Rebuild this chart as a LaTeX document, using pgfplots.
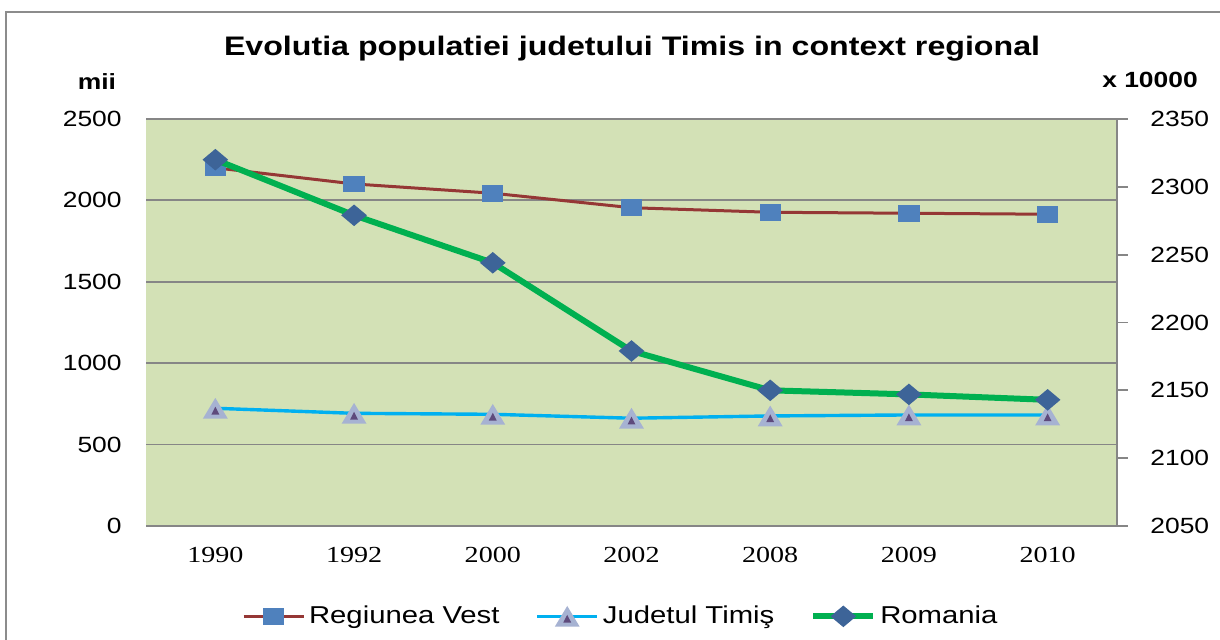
\documentclass[border=0pt]{standalone}
\usepackage{fontspec}
\setmainfont{Liberation Sans}[FakeStretch=1.2]
\newfontfamily\serifx{Liberation Serif}[FakeStretch=1.22]
\usepackage{pgfplots}
\pgfplotsset{compat=1.18}
\definecolor{bgc}{RGB}{211,225,182}
\definecolor{gridc}{RGB}{134,134,134}
\definecolor{framec}{RGB}{140,140,140}
\definecolor{redc}{RGB}{149,55,53}
\definecolor{cyanc}{RGB}{0,176,240}
\definecolor{greenc}{RGB}{0,176,80}
\definecolor{sqc}{RGB}{79,129,189}
\definecolor{diac}{RGB}{61,100,152}
\definecolor{trifill}{RGB}{166,178,210}
\definecolor{triinner}{RGB}{94,74,124}
\pgfdeclareplotmark{rect}{%
  \pgfsetfillcolor{sqc}%
  \pgfpathrectangle{\pgfqpoint{-1.26\pgfplotmarksize}{-\pgfplotmarksize}}{\pgfqpoint{2.52\pgfplotmarksize}{2\pgfplotmarksize}}%
  \pgfusepathqfill}
\pgfdeclareplotmark{dia}{%
  \pgfsetfillcolor{diac}%
  \pgfpathmoveto{\pgfqpoint{0pt}{\pgfplotmarksize}}%
  \pgfpathlineto{\pgfqpoint{1.19\pgfplotmarksize}{0pt}}%
  \pgfpathlineto{\pgfqpoint{0pt}{-\pgfplotmarksize}}%
  \pgfpathlineto{\pgfqpoint{-1.19\pgfplotmarksize}{0pt}}%
  \pgfpathclose\pgfusepathqfill}
\pgfdeclareplotmark{tritwo}{%
  \pgfsetfillcolor{trifill}%
  \pgfpathmoveto{\pgfqpoint{0pt}{\pgfplotmarksize}}%
  \pgfpathlineto{\pgfqpoint{1.2\pgfplotmarksize}{-\pgfplotmarksize}}%
  \pgfpathlineto{\pgfqpoint{-1.2\pgfplotmarksize}{-\pgfplotmarksize}}%
  \pgfpathclose\pgfusepathqfill
  \pgfsetfillcolor{triinner}%
  \pgfpathmoveto{\pgfqpoint{0pt}{0.15\pgfplotmarksize}}%
  \pgfpathlineto{\pgfqpoint{0.38\pgfplotmarksize}{-0.6\pgfplotmarksize}}%
  \pgfpathlineto{\pgfqpoint{-0.38\pgfplotmarksize}{-0.6\pgfplotmarksize}}%
  \pgfpathclose\pgfusepathqfill}
\begin{document}
\begin{tikzpicture}
\useasboundingbox (0,0) rectangle (610pt,320pt);
\fill[white] (0,0) rectangle (610pt,320pt);
\draw[color=framec, line width=1pt] (3pt,-10pt) -- (3pt,314pt) -- (620pt,314pt);
\begin{axis}[
  at={(73pt,57pt)}, anchor=south west,
  scale only axis, width=485.5pt, height=203.5pt,
  xmin=-0.5, xmax=6.5, ymin=0, ymax=2500,
  axis background/.style={fill=bgc},
  axis line style={draw=none},
  xtick={0,...,6}, xticklabels={1990,1992,2000,2002,2008,2009,2010},
  ytick={0,500,...,2500},
  ymajorgrids, grid style={color=gridc, line width=0.9pt},
  major tick length=0pt,
  /pgf/number format/assume math mode=true,
  /pgf/number format/1000 sep={},
  yticklabel style={font=\fontsize{11}{13}\selectfont, anchor=east, inner sep=0pt, xshift=-12pt},
  xticklabel style={font=\serifx\fontsize{11.5}{13}\selectfont, anchor=north, inner sep=0pt, yshift=-10.5pt},
]
\addplot[color=redc, line width=1.5pt, mark=rect, mark size=4.2pt] coordinates {
  (0,2200) (1,2101) (2,2044) (3,1955) (4,1927) (5,1921) (6,1915)};
\addplot[color=cyanc, line width=1.7pt, mark=tritwo, mark size=5.2pt] coordinates {
  (0,723) (1,692) (2,686) (3,662) (4,676) (5,682) (6,682)};
\end{axis}
\begin{axis}[
  at={(73pt,57pt)}, anchor=south west,
  scale only axis, width=485.5pt, height=203.5pt,
  xmin=-0.5, xmax=6.5, ymin=2050, ymax=2350,
  axis x line=none, axis y line*=right,
  axis line style={color=gridc, line width=0.9pt, -},
  ytick={2050,2100,...,2350},
  tick align=outside, major tick length=5.5pt,
  ytick style={color=gridc, line width=0.9pt},
  /pgf/number format/assume math mode=true,
  /pgf/number format/1000 sep={},
  yticklabel style={font=\fontsize{11}{13}\selectfont, anchor=west, inner sep=0pt, xshift=11pt},
  legend style={at={(0.49,-0.222)}, anchor=center, draw=none, fill=none, legend columns=3,
    font=\fontsize{12.2}{14}\selectfont,
    /tikz/every even column/.append style={column sep=16pt}},
  legend image code/.code={\draw[mark repeat=2, mark phase=2] plot coordinates {(0pt,0pt)(15pt,0pt)(30pt,0pt)};},
]
\addlegendimage{color=redc, line width=1.5pt, mark=rect, mark size=4.2pt}
\addlegendentry{Regiunea Vest}
\addlegendimage{color=cyanc, line width=1.7pt, mark=tritwo, mark size=5.2pt}
\addlegendentry{Judetul Timiş}
\addplot[color=greenc, line width=3pt, mark=dia, mark size=5.4pt] coordinates {
  (0,2320) (1,2279) (2,2244) (3,2179) (4,2150) (5,2147) (6,2143)};
\addlegendentry{Romania}
\end{axis}
\node[font=\bfseries\fontsize{13.4}{15}\selectfont] at (316pt,295.5pt) {Evolutia populatiei judetului Timis in context regional};
\node[font=\bfseries\fontsize{11}{13}\selectfont] at (48.5pt,279pt) {mii};
\node[font=\bfseries\fontsize{11}{13}\selectfont] at (575pt,280pt) {x 10000};
\end{tikzpicture}
\end{document}
